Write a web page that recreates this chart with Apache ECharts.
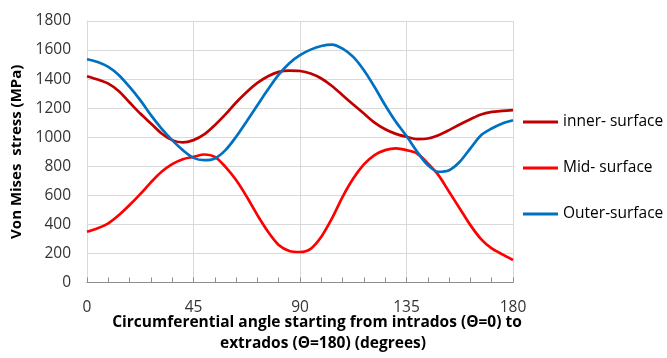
<!DOCTYPE html>
<html>
<head>
<meta charset="utf-8">
<script src="https://cdn.jsdelivr.net/npm/echarts@6/dist/echarts.min.js"></script>
<style>
html,body{margin:0;padding:0;background:#fff;}
#c{width:667px;height:358px;}
</style>
</head>
<body>
<div id="c"></div>
<script>
var angles = [0,4.5,9,13.5,18,22.5,27,31.5,36,40.5,45,49.5,54,58.5,63,67.5,72,76.5,81,85.5,90,94.5,99,103.5,108,112.5,117,121.5,126,130.5,135,139.5,144,148.5,153,157.5,162,166.5,171,175.5,180];
var innerSurface = [1420,1397,1369,1317,1239,1163,1095,1026,980,964,980,1019,1083,1157,1239,1312,1374,1420,1450,1459,1456,1438,1404,1353,1289,1225,1163,1101,1055,1023,1003,987,991,1014,1049,1088,1124,1157,1174,1181,1186];
var midSurface = [349,373,407,464,533,608,689,762,815,849,865,881,865,796,705,590,464,349,258,217,210,232,315,441,590,716,813,877,911,923,911,888,820,739,624,510,395,299,235,194,155];
var outerSurface = [1537,1518,1484,1427,1346,1255,1152,1060,980,911,858,842,854,911,1003,1110,1220,1330,1431,1510,1565,1603,1628,1638,1610,1553,1461,1346,1220,1106,1008,900,808,762,773,831,923,1014,1060,1095,1117];
var seriesNames = ['inner- surface','Mid- surface','Outer-surface'];
var xTicks = [0,45,90,135,180];
var yTicks = [0,200,400,600,800,1000,1200,1400,1600,1800];
var xTitle1 = 'Circumferential angle starting from intrados (\u0398=0) to';
var xTitle2 = 'extrados (\u0398=180) (degrees)';

function pairs(vals){ return angles.map(function(a,i){ return [a, vals[i]]; }); }

var chart = echarts.init(document.getElementById('c'), null, {renderer:'canvas'});
var font = '"Open Sans", sans-serif';
chart.setOption({
  animation:false,
  backgroundColor:'#fff',
  grid:{left:87, right:154, top:21, bottom:75.5},
  xAxis:{
    type:'value', min:xTicks[0], max:xTicks[xTicks.length-1], interval:45,
    axisLine:{show:true, lineStyle:{color:'#8c8c8c', width:1}},
    axisTick:{show:true, inside:true, length:5, lineStyle:{color:'#8c8c8c'}},
    minorTick:{show:true, splitNumber:5, length:5, lineStyle:{color:'#8c8c8c'}},
    axisLabel:{margin:17, fontFamily:font, fontSize:15.5, color:'#333'},
    splitLine:{show:true, lineStyle:{color:'#d9d9d9', width:1}}
  },
  yAxis:{
    type:'value', min:yTicks[0], max:yTicks[yTicks.length-1], interval:200,
    name:'Von Mises  stress (MPa)', nameLocation:'middle', nameGap:62,
    nameTextStyle:{fontFamily:font, fontSize:15, fontWeight:'bold', color:'#000'},
    axisLine:{show:true, lineStyle:{color:'#d9d9d9'}},
    axisTick:{show:false},
    axisLabel:{margin:16, fontFamily:font, fontSize:15.5, color:'#333', formatter:function(v){return String(v);}},
    splitLine:{show:true, lineStyle:{color:'#d9d9d9', width:1}}
  },
  legend:{
    orient:'vertical', left:518, top:109, itemWidth:35, itemHeight:3, itemGap:30,
    icon:'rect',
    textStyle:{fontFamily:font, fontSize:15.5, color:'#000'},
    data:seriesNames
  },
  graphic:[
    {type:'text', style:{text:xTitle1, x:317, y:323, align:'center', verticalAlign:'middle', font:'bold 15.5px "Open Sans", sans-serif', fill:'#000'}},
    {type:'text', style:{text:xTitle2, x:323, y:344, align:'center', verticalAlign:'middle', font:'bold 15.5px "Open Sans", sans-serif', fill:'#000'}}
  ],
  series:[
    {name:seriesNames[0], type:'line', smooth:0.3, showSymbol:false, data:pairs(innerSurface), lineStyle:{color:'#c00000', width:2.7}, itemStyle:{color:'#c00000'}},
    {name:seriesNames[1], type:'line', smooth:0.3, showSymbol:false, data:pairs(midSurface), lineStyle:{color:'#ff0000', width:2.7}, itemStyle:{color:'#ff0000'}},
    {name:seriesNames[2], type:'line', smooth:0.3, showSymbol:false, data:pairs(outerSurface), lineStyle:{color:'#0070c0', width:2.7}, itemStyle:{color:'#0070c0'}}
  ]
});
</script>
</body>
</html>
